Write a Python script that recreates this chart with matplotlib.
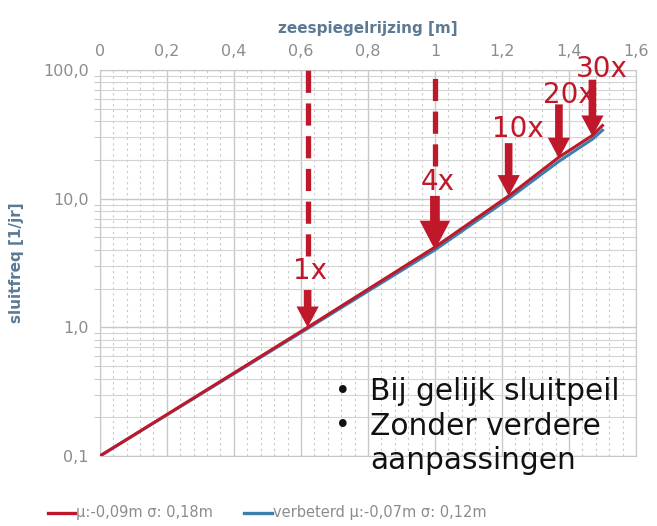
import numpy as np
import matplotlib.pyplot as plt
from matplotlib.ticker import FixedLocator, FixedFormatter, MultipleLocator, LogLocator

# data
rise = [0, 0.62, 1.0, 1.22, 1.37, 1.47, 1.5]
freq_red = [0.1, 1.0, 4.2, 10.5, 21, 31, 37]
freq_blue = [0.1, 0.98, 4.0, 10.0, 19.5, 29, 34]

x_ticks = [0, 0.2, 0.4, 0.6, 0.8, 1.0, 1.2, 1.4, 1.6]
x_labels = ['0', '0,2', '0,4', '0,6', '0,8', '1', '1,2', '1,4', '1,6']
y_ticks = [0.1, 1, 10, 100]
y_labels = ['0,1', '1,0', '10,0', '100,0']

# arrows: label, x, arrow start, arrow end, text y
arrow_labels = ['1x', '4x', '10x', '20x', '30x']
arrow_x = [0.62, 1.0, 1.22, 1.37, 1.47]
arrow_from = [1.95, 10.5, 27, 54, 84]
arrow_to = [1.0, 4.0, 10.5, 20.5, 30.5]
label_y = [2.75, 13.5, 35, 64, 102]
dash_x = [0.62, 1.0]
dash_bottom = [3.6, 18]

bullet_lines = ['Bij gelijk sluitpeil', 'Zonder verdere', 'aanpassingen']
bullet_marks = ['•', '•', '']

red = '#c0182b'
blue = '#3a7fb0'
axis_col = '#5c7a94'
tick_col = '#8c8c8c'

fig = plt.figure(figsize=(6.57, 5.26), dpi=100)
ax = fig.add_axes([0.152, 0.133, 0.816, 0.734])

ax.set_yscale('log')
ax.set_xlim(0, 1.6)
ax.set_ylim(0.1, 100)

ax.xaxis.set_major_locator(FixedLocator(x_ticks))
ax.xaxis.set_major_formatter(FixedFormatter(x_labels))
ax.xaxis.set_minor_locator(MultipleLocator(0.04))
ax.yaxis.set_major_locator(FixedLocator(y_ticks))
ax.yaxis.set_major_formatter(FixedFormatter(y_labels))
ax.yaxis.set_minor_locator(LogLocator(base=10, subs=np.arange(2, 10)))
ax.yaxis.set_minor_formatter(FixedFormatter([]))

ax.xaxis.tick_top()
ax.xaxis.set_label_position('top')
ax.tick_params(axis='both', which='major', labelsize=11.5, colors=tick_col, length=0, pad=8)
ax.tick_params(axis='both', which='minor', length=0)
ax.tick_params(axis='y', which='minor', length=4, color='#bbbbbb', direction='out')

ax.grid(True, which='major', color='#c8c8c8', lw=1.0)
ax.grid(True, which='minor', axis='y', color='#d4d4d4', lw=0.8)
ax.grid(True, which='minor', axis='x', color='#c8c8c8', lw=0.8, ls=(0, (2, 3)))
for s in ax.spines.values():
    s.set_color('#c8c8c8')

ax.set_xlabel('zeespiegelrijzing [m]', fontsize=11, fontweight='bold', color=axis_col, labelpad=8)
ax.set_ylabel('sluitfreq [1/jr]', fontsize=11, fontweight='bold', color=axis_col, labelpad=14)

ax.plot(rise, freq_blue, color=blue, lw=2.2, zorder=4)
ax.plot(rise, freq_red, color=red, lw=2.2, zorder=5)

for xd, yb in zip(dash_x, dash_bottom):
    ax.plot([xd, xd], [yb, 100], color=red, lw=3.8, ls=(0, (4.2, 2)), zorder=6, clip_on=False)

for lab, xa, y0, y1, yt in zip(arrow_labels, arrow_x, arrow_from, arrow_to, label_y):
    big = lab == '4x'
    ax.annotate('', xy=(xa, y1), xytext=(xa, y0),
                arrowprops=dict(facecolor=red, edgecolor='none',
                                width=7 if big else 5.5,
                                headwidth=22 if big else 16,
                                headlength=21 if big else 15, shrink=0),
                zorder=7)
    dx = 7 if len(lab) == 3 else 2
    ax.annotate(lab, xy=(xa, yt), xytext=(dx, 0), textcoords='offset points',
                color=red, fontsize=20, ha='center', va='center', zorder=8,
                annotation_clip=False)

for i, (m, b) in enumerate(zip(bullet_marks, bullet_lines)):
    yy = 0.255 - i * 0.065
    fig.text(0.522, yy, m, fontsize=19, color='#111111', va='center', ha='center')
    fig.text(0.563, yy, b, fontsize=21.3, color='#111111', va='center')

# legend drawn below the axes
fig.lines.append(plt.Line2D([0.073, 0.114], [0.025, 0.025], color=red, lw=2.4, transform=fig.transFigure))
fig.text(0.116, 0.025, 'µ:-0,09m σ: 0,18m', fontsize=10.5, color=tick_col, va='center')
fig.lines.append(plt.Line2D([0.372, 0.414], [0.025, 0.025], color=blue, lw=2.4, transform=fig.transFigure))
fig.text(0.416, 0.025, 'verbeterd µ:-0,07m σ: 0,12m', fontsize=10.5, color=tick_col, va='center')

fig.savefig('out.png', dpi=100)
